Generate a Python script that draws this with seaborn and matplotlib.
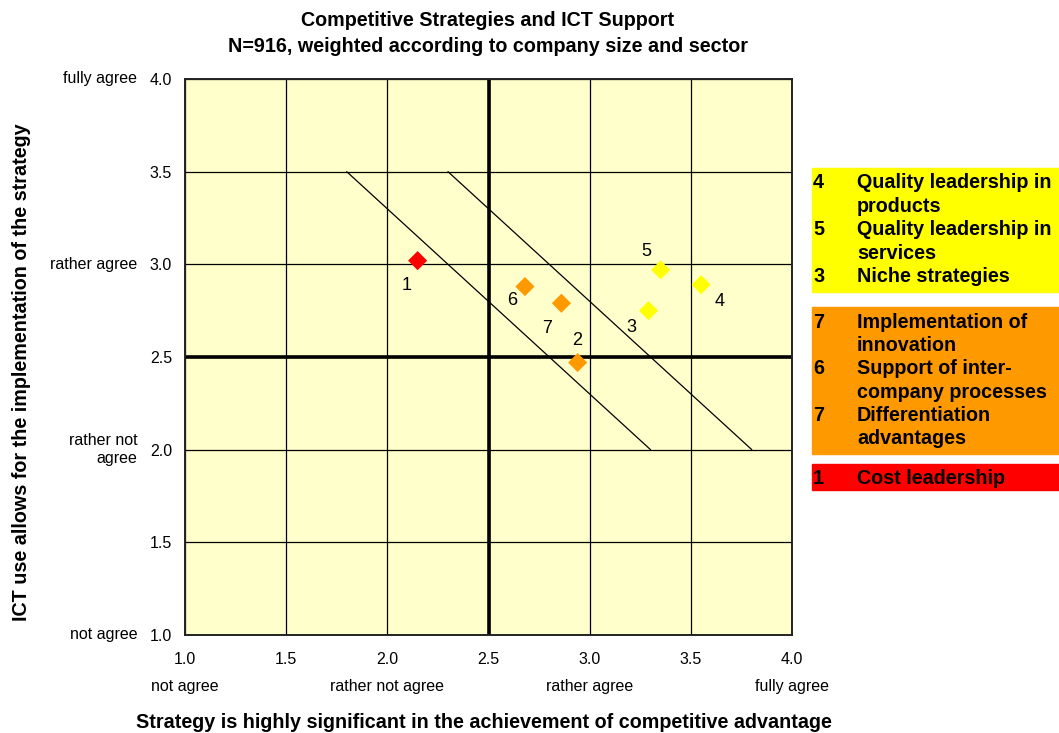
import pandas as pd
import matplotlib.pyplot as plt
import seaborn as sns
from matplotlib.patches import Rectangle

# strategy scores
strategy_ids = ['1', '6', '7', '2', '3', '5', '4']
significance = [2.15, 2.68, 2.86, 2.94, 3.29, 3.35, 3.55]
ict_support = [3.02, 2.88, 2.79, 2.47, 2.75, 2.97, 2.89]
groups = ['cost', 'diff', 'diff', 'diff', 'quality', 'quality', 'quality']

# the two diagonal guide lines
guide_x = [[1.8, 3.3], [2.3, 3.8]]
guide_y = [[3.5, 2.0], [3.5, 2.0]]

ticks = [1.0, 1.5, 2.0, 2.5, 3.0, 3.5, 4.0]
scale_values = [1.0, 2.0, 3.0, 4.0]
x_scale_labels = ['not agree', 'rather not agree', 'rather agree', 'fully agree']
y_scale_labels = ['not agree', 'rather not\nagree', 'rather agree', 'fully agree']

legend_groups = ['quality', 'diff', 'cost']
legend_entries = {
    'quality': [('4', 'Quality leadership in\nproducts'),
                ('5', 'Quality leadership in\nservices'),
                ('3', 'Niche strategies')],
    'diff': [('7', 'Implementation of\ninnovation'),
             ('6', 'Support of inter-\ncompany processes'),
             ('7', 'Differentiation\nadvantages')],
    'cost': [('1', 'Cost leadership')],
}
palette = {'cost': '#FF0000', 'diff': '#FF9900', 'quality': '#FFFF00'}

# label offsets (points) for the numbers next to the markers
label_offsets = [(-8, -18), (-9, -10), (-10, -18), (0, 16), (-12, -12), (-10, 13), (13, -12)]

df = pd.DataFrame({'id': strategy_ids, 'x': significance, 'y': ict_support, 'group': groups})

sns.set_style('white')
plt.rcParams['font.family'] = ['Liberation Sans', 'DejaVu Sans']
plt.rcParams['text.color'] = 'black'
plt.rcParams['xtick.color'] = 'black'
plt.rcParams['ytick.color'] = 'black'

fig = plt.figure(figsize=(10.59, 7.33), dpi=100)
W, H = 1059, 733
ax = fig.add_axes([184.7 / W, 1 - 635 / H, 607.6 / W, 556 / H])
ax.set_facecolor('#FFFFCC')

ax.set_xlim(1, 4)
ax.set_ylim(1, 4)
ax.set_xticks(ticks)
ax.set_yticks(ticks)
ax.set_xticklabels([f'{t:.1f}' for t in ticks])
ax.set_yticklabels([f'{t:.1f}' for t in ticks])
ax.tick_params(length=0, labelsize=11.5)
ax.tick_params(axis='x', pad=12)
ax.tick_params(axis='y', pad=9)
ax.grid(True, color='black', lw=0.9)
ax.axvline(2.5, color='black', lw=2.6, zorder=1.5)
ax.axhline(2.5, color='black', lw=2.6, zorder=1.5)
for s in ax.spines.values():
    s.set_color('#222222')
    s.set_linewidth(1.4)
ax.set_axisbelow(True)

for gx, gy in zip(guide_x, guide_y):
    ax.plot(gx, gy, color='black', lw=0.9, zorder=2)

sns.scatterplot(data=df, x='x', y='y', hue='group', palette=palette, marker='D',
                s=95, linewidth=0, legend=False, ax=ax, zorder=3)
ax.set_xlabel('')
ax.set_ylabel('')

for sid, xv, yv, off in zip(strategy_ids, significance, ict_support, label_offsets):
    ax.annotate(sid, (xv, yv), xytext=off, textcoords='offset points',
                ha='center', va='center', fontsize=13)

# verbal scale labels
for v, lab in zip(scale_values, y_scale_labels):
    ax.annotate(lab, (0, v), xycoords=('axes fraction', 'data'), xytext=(-34, 0),
                textcoords='offset points', ha='right', va='center', fontsize=11.5,
                multialignment='right', linespacing=1.3, annotation_clip=False)
for v, lab in zip(scale_values, x_scale_labels):
    ax.annotate(lab, (v, 0), xycoords=('data', 'axes fraction'), xytext=(0, -37),
                textcoords='offset points', ha='center', va='center', fontsize=11.5,
                annotation_clip=False)

bold = dict(fontsize=14.2, fontweight='bold')
fig.text(488 / W, 1 - 20 / H, 'Competitive Strategies and ICT Support',
         ha='center', va='center', **bold)
fig.text(488 / W, 1 - 46 / H, 'N=916, weighted according to company size and sector',
         ha='center', va='center', **bold)
fig.text(484 / W, 1 - 722 / H,
         'Strategy is highly significant in the achievement of competitive advantage',
         ha='center', va='center', **bold)
fig.text(22 / W, 1 - 372 / H, 'ICT use allows for the implementation of the strategy',
         ha='center', va='center', rotation=90, **bold)

# colored legend boxes on the right
box_top = {'quality': 168, 'diff': 307, 'cost': 464}
line_step = 23.4
for g in legend_groups:
    top = box_top[g]
    n_lines = sum(len(d.split('\n')) for _, d in legend_entries[g])
    height = n_lines * line_step + 7
    if g == 'cost':
        height = 26
    fig.patches.append(Rectangle((812 / W, 1 - (top + height) / H), (W - 812) / W, height / H,
                                 transform=fig.transFigure, color=palette[g], zorder=0))
    y = top + 15
    for num, desc in legend_entries[g]:
        fig.text(813 / W, 1 - y / H, num, ha='left', va='center', **bold)
        for line in desc.split('\n'):
            fig.text(857 / W, 1 - y / H, line, ha='left', va='center', **bold)
            y += line_step

fig.savefig('out.png', dpi=100)
